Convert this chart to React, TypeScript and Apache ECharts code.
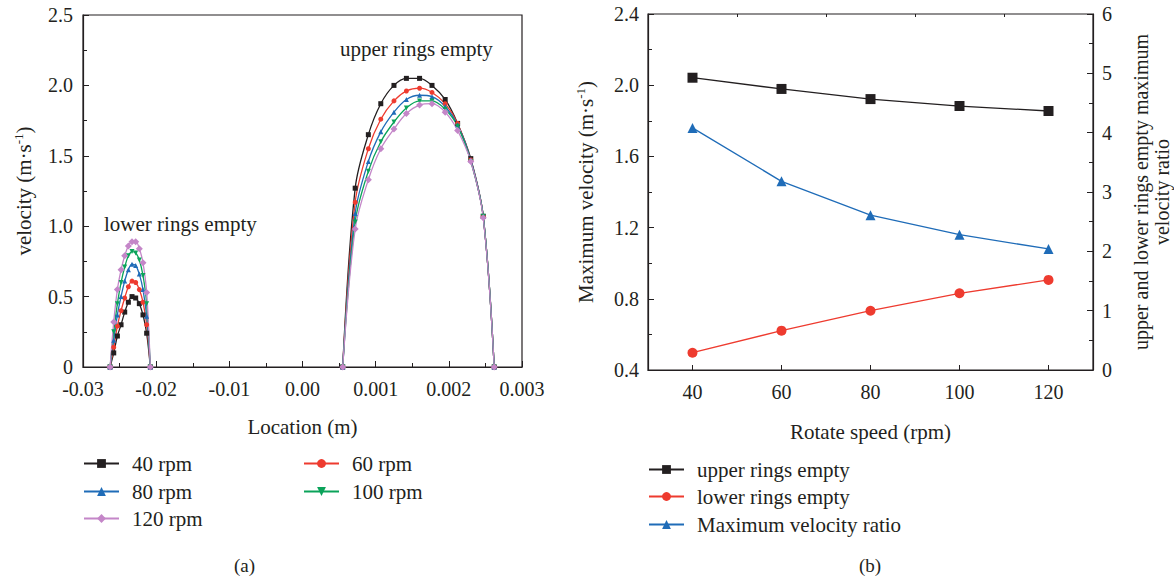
import React, { useEffect, useRef } from "react";
import * as echarts from "echarts";

const FONT = '"Liberation Serif", "Times New Roman", serif';
const TXT = "#231f20";

// ---------- chart (a) data ----------
const xTickLabels = ["-0.03", "-0.02", "-0.01", "0.00", "0.001", "0.002", "0.003"];
const rpmNames = ["40 rpm", "60 rpm", "80 rpm", "100 rpm", "120 rpm"];
const rpmColors = ["#231f20", "#ee3b2f", "#1f6cb8", "#0ba35a", "#c486c8"];
const rpmSymbols = ["rect", "circle", "triangle", "path://M0,0 L10,0 L5,10 Z", "diamond"];

const lowerLoc = [-0.0263, -0.0258, -0.0253, -0.0248, -0.0243, -0.0238, -0.0233, -0.0228, -0.0223, -0.0218, -0.0213, -0.0208];
const upperLoc = [0.00055, 0.00072, 0.0009, 0.00107, 0.00125, 0.00142, 0.0016, 0.00177, 0.00195, 0.00212, 0.0023, 0.00247, 0.00262];

const lower40 = [0, 0.10, 0.22, 0.30, 0.39, 0.46, 0.50, 0.49, 0.45, 0.37, 0.24, 0];
const lower60 = [0, 0.14, 0.29, 0.40, 0.49, 0.57, 0.61, 0.60, 0.55, 0.46, 0.30, 0];
const lower80 = [0, 0.19, 0.37, 0.50, 0.61, 0.69, 0.73, 0.72, 0.66, 0.55, 0.36, 0];
const lower100 = [0, 0.25, 0.45, 0.60, 0.71, 0.79, 0.82, 0.81, 0.76, 0.65, 0.45, 0];
const lower120 = [0, 0.32, 0.55, 0.69, 0.79, 0.86, 0.89, 0.89, 0.84, 0.74, 0.53, 0];

const upper40 = [0, 1.27, 1.65, 1.87, 2.00, 2.05, 2.05, 2.00, 1.90, 1.73, 1.48, 1.07, 0];
const upper60 = [0, 1.17, 1.55, 1.76, 1.89, 1.96, 1.98, 1.95, 1.87, 1.73, 1.47, 1.07, 0];
const upper80 = [0, 1.09, 1.46, 1.67, 1.81, 1.90, 1.93, 1.92, 1.85, 1.72, 1.47, 1.07, 0];
const upper100 = [0, 1.03, 1.39, 1.60, 1.74, 1.84, 1.89, 1.89, 1.83, 1.71, 1.46, 1.07, 0];
const upper120 = [0, 0.98, 1.33, 1.55, 1.69, 1.80, 1.86, 1.87, 1.81, 1.68, 1.46, 1.06, 0];

const lowerAll = [lower40, lower60, lower80, lower100, lower120];
const upperAll = [upper40, upper60, upper80, upper100, upper120];

// ---------- chart (b) data ----------
const speeds = [40, 60, 80, 100, 120];
const upperMax = [2.042, 1.979, 1.922, 1.883, 1.855];
const lowerMax = [0.497, 0.621, 0.733, 0.831, 0.906];
const ratio = [4.08, 3.18, 2.61, 2.28, 2.04];
const bNames = ["upper rings empty", "lower rings empty", "Maximum velocity ratio"];
const bColors = ["#231f20", "#ee3b2f", "#1f6cb8"];

// broken x axis of chart (a): -0.03..0.00 in steps of 0.01, then 0.000..0.003 in steps of 0.001
function locToAxis(loc: number): number {
  return loc <= 0 ? (loc + 0.03) / 0.01 : 3 + loc / 0.001;
}

const NAME_SIZE = 21;
const richName = {
  a: { fontFamily: FONT, fontSize: NAME_SIZE, color: TXT },
  s: { fontFamily: FONT, fontSize: 13, color: TXT, padding: [0, 0, 11, 0] },
};

export default function App() {
  const ref = useRef<HTMLDivElement>(null);
  useEffect(() => {
    if (!ref.current) return;
    const chart = echarts.init(ref.current, undefined, { renderer: "svg" });

    const labelStyle = { fontFamily: FONT, fontSize: 20, color: TXT };
    const nameStyle = { fontFamily: FONT, fontSize: NAME_SIZE, color: TXT };
    const axisLine = { show: true, lineStyle: { color: TXT, width: 1.2 } };

    const aSeries = rpmNames.map((name, i) => {
      const data: any[] = [];
      lowerLoc.forEach((l, j) => data.push([locToAxis(l), lowerAll[i][j]]));
      data.push(null);
      upperLoc.forEach((l, j) => data.push([locToAxis(l), upperAll[i][j]]));
      return {
        type: "line",
        name,
        xAxisIndex: 0,
        yAxisIndex: 0,
        data,
        smooth: 0.35,
        connectNulls: false,
        symbol: rpmSymbols[i],
        symbolSize: i === 4 ? 7 : 5,
        lineStyle: { color: rpmColors[i], width: 1.3 },
        itemStyle: { color: rpmColors[i] },
      };
    });

    const bSeries = [upperMax, lowerMax, ratio].map((vals, i) => ({
      type: "line",
      name: bNames[i],
      xAxisIndex: 1,
      yAxisIndex: i === 2 ? 2 : 1,
      data: speeds.map((s, j) => [s, vals[j]]),
      symbol: ["rect", "circle", "triangle"][i],
      symbolSize: 10,
      lineStyle: { color: bColors[i], width: 1.3 },
      itemStyle: { color: bColors[i] },
    }));

    const legendBase = {
      orient: "horizontal",
      padding: 0,
      itemWidth: 35,
      itemHeight: 11,
      selectedMode: false,
      textStyle: { fontFamily: FONT, fontSize: NAME_SIZE, color: TXT, padding: [0, 0, 0, 8] },
    };
    const aLegendPos = [
      [83, 453],
      [303, 453],
      [83, 481],
      [303, 481],
      [83, 508],
    ];
    const bLegendPos = [
      [648, 459],
      [648, 486],
      [648, 514],
    ];
    const legends = [
      ...rpmNames.map((n, i) => ({ ...legendBase, data: [n], left: aLegendPos[i][0], top: aLegendPos[i][1] })),
      ...bNames.map((n, i) => ({ ...legendBase, data: [n], left: bLegendPos[i][0], top: bLegendPos[i][1] })),
    ];

    chart.setOption({
      animation: false,
      backgroundColor: "#ffffff",
      grid: [
        { left: 83, top: 15, width: 439, height: 352, show: true, borderColor: TXT, borderWidth: 1.2, backgroundColor: "transparent" },
        { left: 648, top: 14, width: 445, height: 356, show: true, borderColor: TXT, borderWidth: 1.2, backgroundColor: "transparent" },
      ],
      legend: legends,
      xAxis: [
        {
          type: "value",
          gridIndex: 0,
          min: 0,
          max: 6,
          interval: 1,
          axisLine,
          axisTick: { show: true, inside: true, length: 6, lineStyle: { color: TXT } },
          minorTick: { show: true, splitNumber: 2, length: 4, lineStyle: { color: TXT } },
          splitLine: { show: false },
          axisLabel: { ...labelStyle, margin: 12, formatter: (v: number) => xTickLabels[Math.round(v)] ?? "" },
          name: "Location (m)",
          nameLocation: "middle",
          nameGap: 49,
          nameTextStyle: { ...nameStyle },
        },
        {
          type: "value",
          gridIndex: 1,
          min: 30,
          max: 130,
          axisLine,
          axisTick: { show: true, inside: true, length: 5, customValues: [40, 60, 80, 100, 120], lineStyle: { color: TXT } },
          splitLine: { show: false },
          axisLabel: { ...labelStyle, margin: 12, customValues: [40, 60, 80, 100, 120] },
          name: "Rotate speed (rpm)",
          nameLocation: "middle",
          nameGap: 51,
          nameTextStyle: { ...nameStyle },
        },
        {
          type: "value",
          gridIndex: 1,
          min: 30,
          max: 130,
          axisLine: { show: false },
          axisTick: { show: true, inside: true, length: 3, customValues: [50, 70, 90, 110], lineStyle: { color: TXT } },
          splitLine: { show: false },
          axisLabel: { show: false },
        },
      ],
      yAxis: [
        {
          type: "value",
          gridIndex: 0,
          min: 0,
          max: 2.5,
          interval: 0.5,
          axisLine,
          axisTick: { show: true, inside: true, length: 6, lineStyle: { color: TXT } },
          minorTick: { show: true, splitNumber: 2, length: 4, lineStyle: { color: TXT } },
          splitLine: { show: false },
          axisLabel: { ...labelStyle, margin: 10, formatter: (v: number) => (v === 0 ? "0" : v.toFixed(1)) },
          name: "{a|velocity (m·s}{s|-1}{a|)}",
          nameLocation: "middle",
          nameGap: 47,
          nameTextStyle: { rich: richName },
        },
        {
          type: "value",
          gridIndex: 1,
          min: 0.4,
          max: 2.4,
          interval: 0.4,
          axisLine,
          axisTick: { show: true, inside: true, length: 6, lineStyle: { color: TXT } },
          minorTick: { show: true, splitNumber: 2, length: 4, lineStyle: { color: TXT } },
          splitLine: { show: false },
          axisLabel: { ...labelStyle, margin: 9, formatter: (v: number) => v.toFixed(1) },
          name: "{a|Maximum velocity (m·s}{s|-1}{a|)}",
          nameLocation: "middle",
          nameGap: 50,
          nameTextStyle: { rich: richName },
        },
        {
          type: "value",
          gridIndex: 1,
          position: "right",
          min: 0,
          max: 6,
          interval: 1,
          axisLine,
          axisTick: { show: true, inside: true, length: 6, lineStyle: { color: TXT } },
          minorTick: { show: true, splitNumber: 2, length: 4, lineStyle: { color: TXT } },
          splitLine: { show: false },
          axisLabel: { ...labelStyle, margin: 9 },
          name: "upper and lower rings empty maximum\nvelocity ratio",
          nameLocation: "middle",
          nameGap: 37,
          nameRotate: 90,
          nameTextStyle: { fontFamily: FONT, fontSize: 20, color: TXT, lineHeight: 21 },
        },
      ],
      graphic: [
        { type: "text", left: 104, top: 213, style: { text: "lower rings empty", fontFamily: FONT, fontSize: NAME_SIZE, fill: TXT } },
        { type: "text", left: 340, top: 38, style: { text: "upper rings empty", fontFamily: FONT, fontSize: NAME_SIZE, fill: TXT } },
        { type: "text", left: 234, top: 556, style: { text: "(a)", fontFamily: FONT, fontSize: 19, fill: TXT } },
        { type: "text", left: 859, top: 556, style: { text: "(b)", fontFamily: FONT, fontSize: 19, fill: TXT } },
      ],
      series: [...aSeries, ...bSeries],
    });
    return () => chart.dispose();
  }, []);

  return (
    <div
      ref={ref}
      style={{ position: "fixed", left: 0, top: 0, width: 1174, height: 584, background: "#fff" }}
    />
  );
}
